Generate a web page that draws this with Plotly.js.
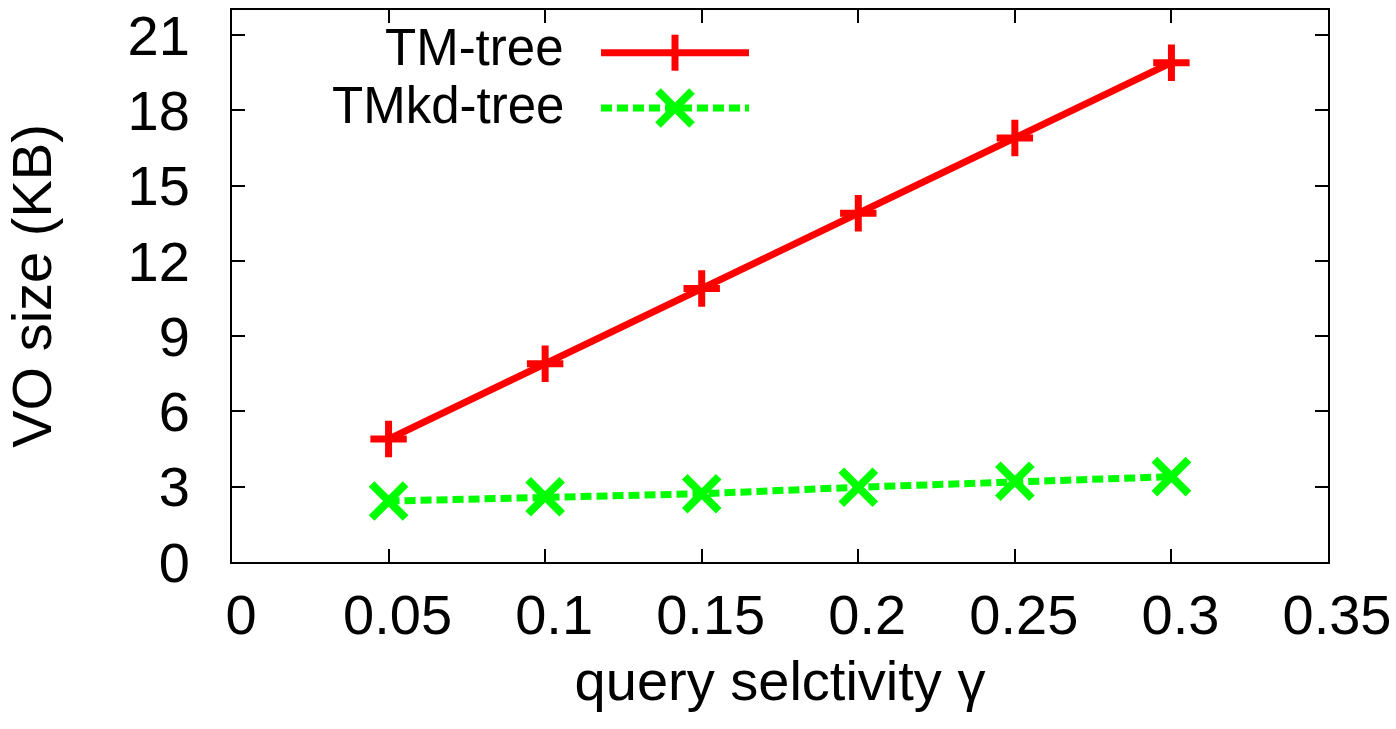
<!DOCTYPE html>
<html>
<head>
<meta charset="utf-8">
<script src="https://cdn.plot.ly/plotly-3.0.1.min.js"></script>
<style>
  html, body { margin: 0; padding: 0; background: #fff; }
  #chart { width: 1396px; height: 729px; }
</style>
</head>
<body>
<div id="chart"></div>
<script>
// ---- data ----
const gamma = [0.05, 0.10, 0.15, 0.20, 0.25, 0.30];
const tmTree = [4.9, 7.9, 10.9, 13.9, 16.9, 19.9];
const tmkdTree = [2.43, 2.6, 2.72, 2.98, 3.22, 3.4];
const seriesNames = ["TM-tree", "TMkd-tree"];
const xTicks = [0, 0.05, 0.1, 0.15, 0.2, 0.25, 0.3, 0.35];
const xTickText = ["0", "0.05", "0.1", "0.15", "0.2", "0.25", "0.3", "0.35"];
const yTicks = [0, 3, 6, 9, 12, 15, 18, 21];

const FONT = '"Liberation Sans", Arial, Helvetica, sans-serif';
const FS = 56;
const LEG_FS = 51;
const RED = '#ff0000';
const GREEN = '#00ff00';

const traces = [
  {
    x: gamma, y: tmTree, name: seriesNames[0], type: 'scatter', mode: 'lines+markers',
    line: { color: RED, width: 7 },
    marker: { symbol: 'cross-thin', size: 26, color: RED, line: { color: RED, width: 7 } },
    showlegend: false
  },
  {
    x: gamma, y: tmkdTree, name: seriesNames[1], type: 'scatter', mode: 'lines+markers',
    line: { color: GREEN, width: 7, dash: '11px,5px' },
    marker: { symbol: 'x-thin', size: 34, color: GREEN, line: { color: GREEN, width: 8 } },
    showlegend: false
  }
];

// custom gnuplot-style legend (text left, sample right)
const legTextX = 0.3047;
const legLineX0 = 0.3367, legLineX1 = 0.4717, legMarkX = 0.4042;
const legRowY = [0.9226, 0.8225];
const legTextY = [0.9315, 0.8265];
const annotations = seriesNames.map((n, i) => ({
  text: n, xref: 'paper', yref: 'paper', x: legTextX, y: legTextY[i],
  xanchor: 'right', yanchor: 'middle', showarrow: false,
  font: { family: FONT, size: LEG_FS, color: '#000' }
}));
const shapes = [
  { type: 'line', xref: 'paper', yref: 'paper', x0: legLineX0, x1: legLineX1, y0: legRowY[0], y1: legRowY[0], line: { color: RED, width: 7 } },
  { type: 'line', xref: 'paper', yref: 'paper', xsizemode: 'pixel', xanchor: legMarkX, x0: 0, x1: 0, ysizemode: 'pixel', yanchor: legRowY[0], y0: -18, y1: 18, line: { color: RED, width: 7 } },
  { type: 'line', xref: 'paper', yref: 'paper', x0: legLineX0, x1: legLineX1, y0: legRowY[1], y1: legRowY[1], line: { color: GREEN, width: 7, dash: '11px,5px' } },
  { type: 'line', xref: 'paper', yref: 'paper', xsizemode: 'pixel', xanchor: legMarkX, x0: -17, x1: 17, ysizemode: 'pixel', yanchor: legRowY[1], y0: -17, y1: 17, line: { color: GREEN, width: 8 } },
  { type: 'line', xref: 'paper', yref: 'paper', xsizemode: 'pixel', xanchor: legMarkX, x0: -17, x1: 17, ysizemode: 'pixel', yanchor: legRowY[1], y0: 17, y1: -17, line: { color: GREEN, width: 8 } }
];

const layout = {
  width: 1396, height: 729,
  margin: { l: 232, r: 68, t: 10, b: 167 },
  paper_bgcolor: '#fff', plot_bgcolor: '#fff',
  font: { family: FONT, size: FS, color: '#000' },
  showlegend: false,
  xaxis: {
    range: [0, 0.35], tickvals: xTicks, ticktext: xTickText,
    showgrid: false, zeroline: false,
    showline: true, linecolor: '#000', linewidth: 2, mirror: 'ticks',
    ticks: 'inside', ticklen: 13, tickwidth: 2, tickcolor: '#000',
    ticklabelstandoff: 3, ticklabelshift: 9,
    tickfont: { family: FONT, size: FS, color: '#000' },
    title: { text: 'query selctivity γ', font: { family: FONT, size: FS, color: '#000' }, standoff: 16 }
  },
  yaxis: {
    range: [0, 22], tickvals: yTicks,
    showgrid: false, zeroline: false,
    showline: true, linecolor: '#000', linewidth: 2, mirror: 'ticks',
    ticks: 'inside', ticklen: 13, tickwidth: 2, tickcolor: '#000',
    ticklabelstandoff: 29,
    tickfont: { family: FONT, size: FS, color: '#000' },
    title: { text: 'VO size (KB)', font: { family: FONT, size: FS, color: '#000' }, standoff: 60 }
  },
  annotations: annotations,
  shapes: shapes
};

Plotly.newPlot('chart', traces, layout, { displayModeBar: false, responsive: false });
</script>
</body>
</html>
